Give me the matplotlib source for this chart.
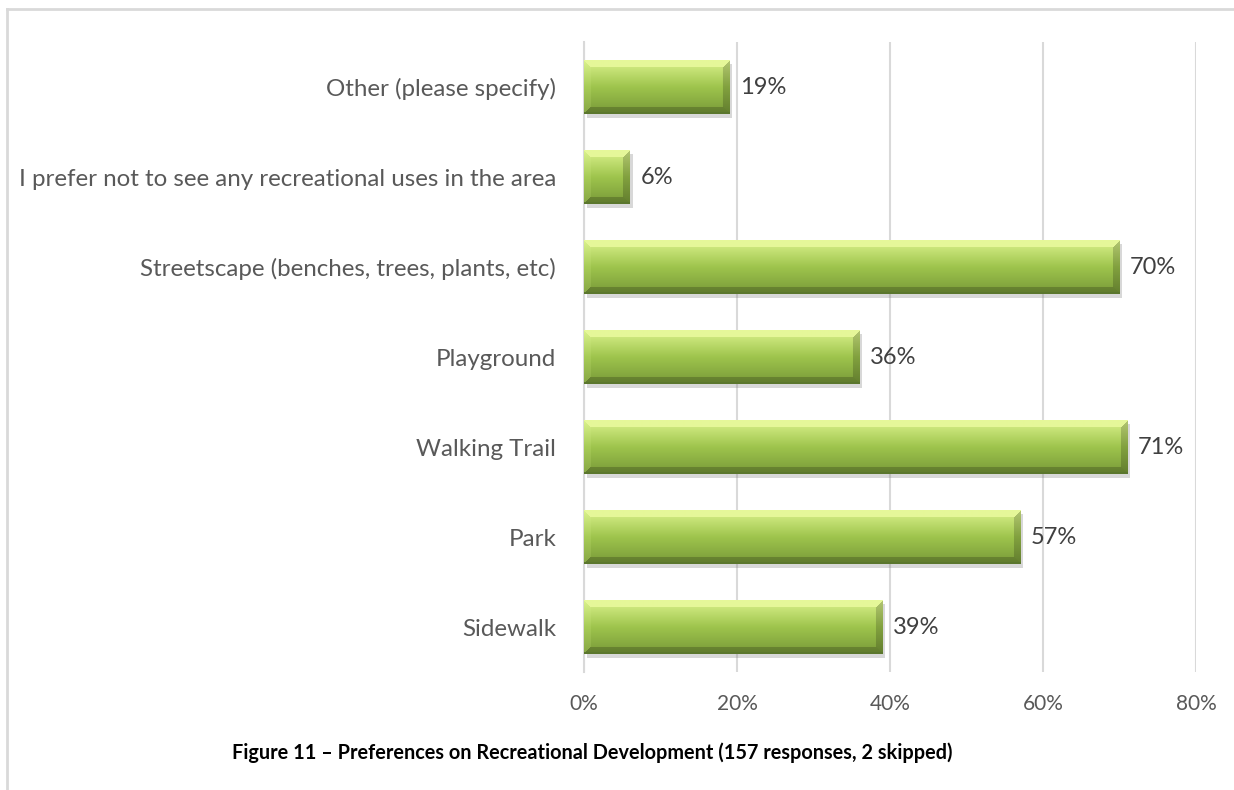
"""
horizontal bar chart of recreational development preferences
"""
import numpy as np
import matplotlib
matplotlib.use('Agg')
import matplotlib.pyplot as plt
from matplotlib import patheffects as pe
from matplotlib.lines import Line2D

plt.rcParams['font.family'] = ['Lato', 'DejaVu Sans']

CATEGORIES = [
    'Sidewalk',
    'Park',
    'Walking Trail',
    'Playground',
    'Streetscape (benches, trees, plants, etc)',
    'I prefer not to see any recreational uses in the area',
    'Other (please specify)',
]
PERCENTS = [39, 57, 71, 36, 70, 6, 19]
X_TICKS = [0, 20, 40, 60, 80]
CAPTION = ('Figure 11 \u2013 Preferences on Recreational Development '
           '(157 responses, 2 skipped)')

GRID_GREY = '#d9d9d9'
LABEL_GREY = '#595959'
BAR_H = 0.6


def _bevel_image(w_px, h_px, bevel=7):
    """rgb array for one bevelled green bar"""
    w_px = max(int(round(w_px)), 2)
    h_px = max(int(round(h_px)), 2)
    yy, xx = np.mgrid[0:h_px, 0:w_px] + 0.5
    t = yy / h_px  # 0 at top, 1 at bottom
    top = np.array([0.86, 0.95, 0.55])
    mid = np.array([0.62, 0.77, 0.30])
    bot = np.array([0.47, 0.60, 0.22])
    base = np.where(t[..., None] < 0.5,
                    top + (mid - top) * (t[..., None] / 0.5),
                    mid + (bot - mid) * ((t[..., None] - 0.5) / 0.5))
    img = base.copy()
    d_top, d_bot = yy, h_px - yy
    d_left, d_right = xx, w_px - xx
    dmin = np.minimum(np.minimum(d_top, d_bot), np.minimum(d_left, d_right))
    in_bev = dmin < bevel
    top_m = in_bev & (d_top == dmin)
    bot_m = in_bev & (d_bot == dmin) & ~top_m
    left_m = in_bev & (d_left == dmin) & ~top_m & ~bot_m
    right_m = in_bev & (d_right == dmin) & ~top_m & ~bot_m & ~left_m
    img[top_m] = np.array([0.90, 0.97, 0.60])
    img[left_m] = base[left_m] * 0.85 + np.array([0.85, 0.95, 0.55]) * 0.15
    img[right_m] = base[right_m] * 0.82
    img[bot_m] = base[bot_m] * 0.80
    img[d_bot < 2] = np.array([0.36, 0.47, 0.18])
    return img


fig = plt.figure(figsize=(12.34, 7.9), dpi=100)
ax = fig.add_axes([584 / 1234, 1 - 672 / 790, 612 / 1234, 630 / 790])

y_pos = np.arange(len(CATEGORIES))
ax.set_xlim(0, 80)
ax.set_ylim(-0.5, len(CATEGORIES) - 0.5)

bars = ax.barh(y_pos, PERCENTS, height=BAR_H, color='#9bc24a', zorder=3,
               path_effects=[pe.SimplePatchShadow(offset=(2, -3),
                                                  shadow_rgbFace='#7f7f7f',
                                                  alpha=0.3),
                             pe.Normal()])

fig.canvas.draw()
for rect, val, yc in zip(bars, PERCENTS, y_pos):
    x0, y0 = ax.transData.transform((0, yc - BAR_H / 2))
    x1, y1 = ax.transData.transform((val, yc + BAR_H / 2))
    img = _bevel_image(x1 - x0, y1 - y0)
    im = ax.imshow(img, extent=(0, val, yc - BAR_H / 2, yc + BAR_H / 2),
                   aspect='auto', interpolation='bilinear', zorder=4)
    im.set_clip_path(rect)
    ax.text(val + 1.4, yc, f'{val}%', va='center', ha='left',
            fontsize=17, color='#404040')

ax.set_xlim(0, 80)
ax.set_ylim(-0.5, len(CATEGORIES) - 0.5)

ax.set_xticks(X_TICKS)
ax.set_xticklabels([f'{t}%' for t in X_TICKS], fontsize=15, color=LABEL_GREY)
ax.set_yticks(y_pos)
ax.set_yticklabels(CATEGORIES, fontsize=17.4, color=LABEL_GREY)
ax.tick_params(axis='both', length=0)
ax.tick_params(axis='x', pad=16)
ax.tick_params(axis='y', pad=20)
ax.grid(axis='x', color=GRID_GREY, linewidth=1.5, zorder=0)
ax.set_axisbelow(True)
for side in ['top', 'right', 'bottom']:
    ax.spines[side].set_visible(False)
ax.spines['left'].set_color(GRID_GREY)
ax.spines['left'].set_linewidth(1.5)

# page frame lines on the top and left
fig.add_artist(Line2D([7 / 1234, 1], [1 - 9 / 790, 1 - 9 / 790],
                      color=GRID_GREY, linewidth=2))
fig.add_artist(Line2D([7 / 1234, 7 / 1234], [0, 1 - 9 / 790],
                      color=GRID_GREY, linewidth=2))

fig.text(592 / 1234, 1 - 753 / 790, CAPTION, ha='center', va='center',
         fontsize=14.3, fontweight='bold', color='black')

fig.savefig('out.png', dpi=100)
